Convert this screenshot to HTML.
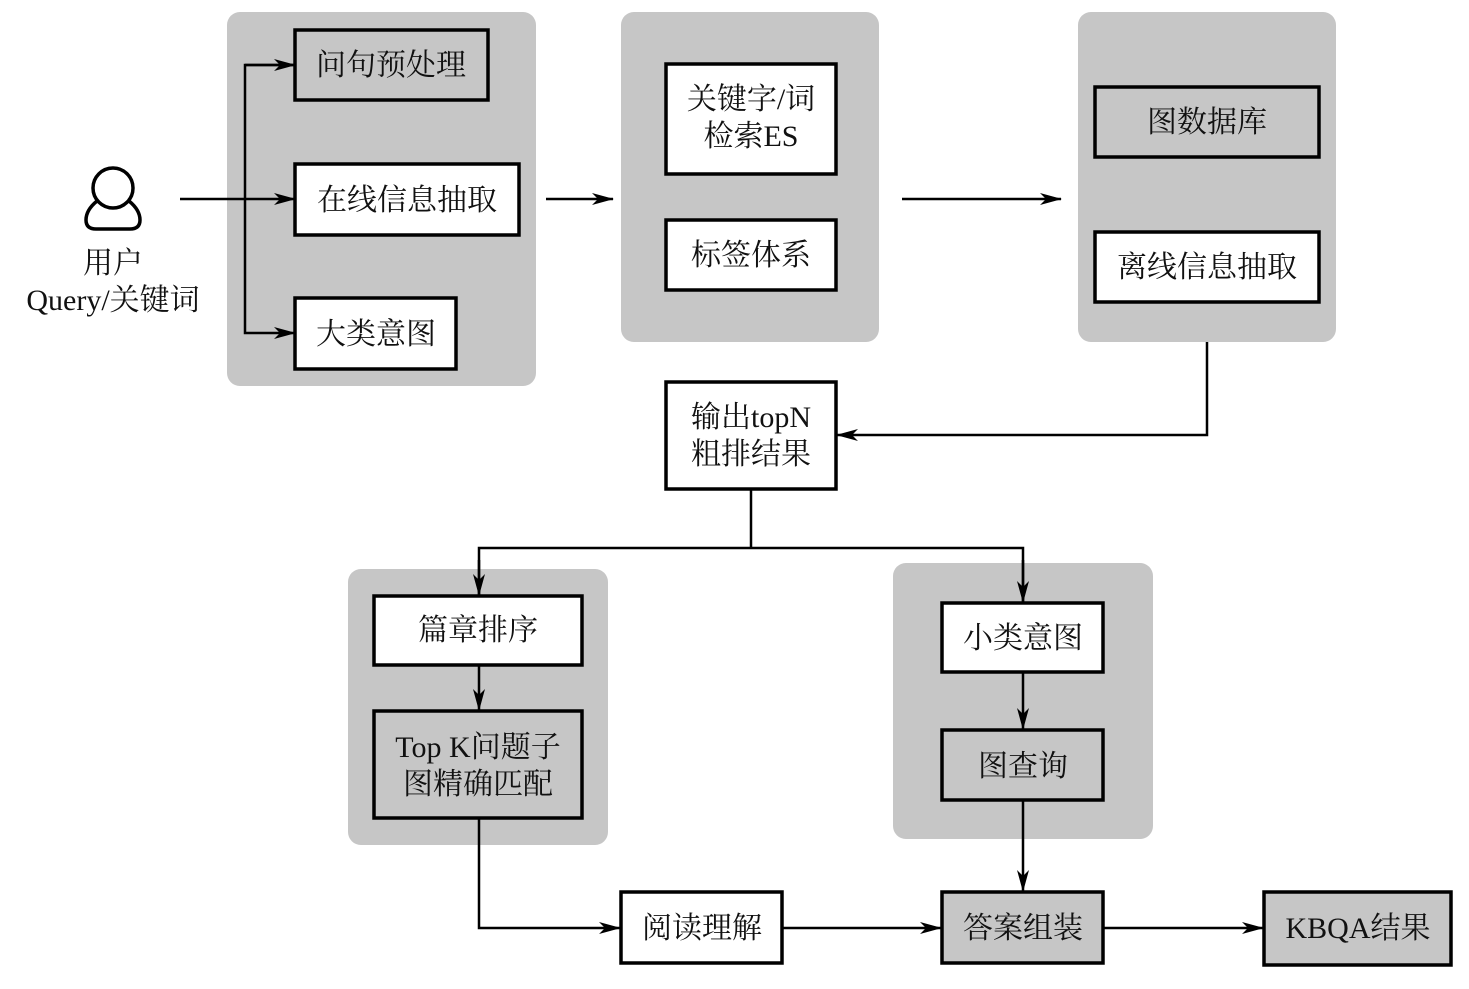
<!DOCTYPE html>
<html><head><meta charset="utf-8"><style>
html,body{margin:0;padding:0;background:#fff;}
svg text{font-family:"Liberation Serif","Noto Serif CJK SC",serif;font-size:30px;fill:#111;}
</style></head><body>
<svg width="1469" height="984" viewBox="0 0 1469 984" xmlns="http://www.w3.org/2000/svg">
<defs>
<marker id="a" markerWidth="22" markerHeight="12" refX="21" refY="6" orient="auto" markerUnits="userSpaceOnUse">
<path d="M0,0 L22,6 L0,12 L6,6 Z" fill="#000"/>
</marker>
</defs>
<!-- groups -->
<g fill="#c6c6c6">
<rect x="227" y="12" width="309" height="374" rx="13"/>
<rect x="621" y="12" width="258" height="330" rx="13"/>
<rect x="1078" y="12" width="258" height="330" rx="13"/>
<rect x="348" y="569" width="260" height="276" rx="13"/>
<rect x="893" y="563" width="260" height="276" rx="13"/>
</g>
<!-- boxes -->
<g stroke="#000" stroke-width="3.5">
<rect x="295" y="30" width="193" height="70" fill="#c6c6c6"/>
<rect x="295" y="164" width="224" height="71" fill="#fff"/>
<rect x="295" y="298" width="161" height="71" fill="#fff"/>
<rect x="666" y="64" width="170" height="110" fill="#fff"/>
<rect x="666" y="220" width="170" height="70" fill="#fff"/>
<rect x="1095" y="87" width="224" height="70" fill="#c6c6c6"/>
<rect x="1095" y="232" width="224" height="70" fill="#fff"/>
<rect x="666" y="382" width="170" height="107" fill="#fff"/>
<rect x="374" y="596" width="208" height="69" fill="#fff"/>
<rect x="374" y="711" width="208" height="107" fill="#c6c6c6"/>
<rect x="942" y="603" width="161" height="69" fill="#fff"/>
<rect x="942" y="730" width="161" height="70" fill="#c6c6c6"/>
<rect x="621" y="892" width="161" height="71" fill="#fff"/>
<rect x="942" y="892" width="161" height="71" fill="#c6c6c6"/>
<rect x="1264" y="892" width="187" height="73" fill="#c6c6c6"/>
</g>
<!-- user icon -->
<g fill="none" stroke="#000" stroke-width="3.5">
<circle cx="113" cy="188" r="20"/>
<path d="M97,201 Q86,210 86,220 Q86,229 96,229 L130,229 Q140,229 140,220 Q140,210 129,201"/>
</g>
<!-- connectors -->
<g stroke="#000" stroke-width="2.5" fill="none">
<line x1="180" y1="199" x2="295" y2="199" marker-end="url(#a)"/>
<polyline points="295,65 245,65 245,333 295,333" marker-end="url(#a)"/>
<line x1="245" y1="65" x2="295" y2="65" marker-end="url(#a)"/>
<line x1="546" y1="199" x2="613" y2="199" marker-end="url(#a)"/>
<line x1="902" y1="199" x2="1061" y2="199" marker-end="url(#a)"/>
<polyline points="1207,342 1207,435 837,435" marker-end="url(#a)"/>
<line x1="751" y1="489" x2="751" y2="548"/>
<polyline points="479,595 479,548 1023,548 1023,602" />
<line x1="479" y1="560" x2="479" y2="595" marker-end="url(#a)"/>
<line x1="1023" y1="560" x2="1023" y2="602" marker-end="url(#a)"/>
<line x1="479" y1="665" x2="479" y2="710" marker-end="url(#a)"/>
<line x1="1023" y1="672" x2="1023" y2="729" marker-end="url(#a)"/>
<line x1="1023" y1="800" x2="1023" y2="891" marker-end="url(#a)"/>
<polyline points="479,818 479,928 620,928" marker-end="url(#a)"/>
<line x1="782" y1="928" x2="941" y2="928" marker-end="url(#a)"/>
<line x1="1103" y1="928" x2="1263" y2="928" marker-end="url(#a)"/>
</g>
<!-- labels -->
<g text-anchor="middle">
<text x="113" y="273">用户</text>
<text x="113" y="310">Query/关键词</text>
<text x="391" y="75">问句预处理</text>
<text x="407" y="210">在线信息抽取</text>
<text x="376" y="344">大类意图</text>
<text x="751" y="109">关键字/词</text>
<text x="751" y="146">检索ES</text>
<text x="751" y="265">标签体系</text>
<text x="1207" y="132">图数据库</text>
<text x="1207" y="277">离线信息抽取</text>
<text x="751" y="427">输出topN</text>
<text x="751" y="464">粗排结果</text>
<text x="478" y="640">篇章排序</text>
<text x="478" y="757">Top K问题子</text>
<text x="478" y="794">图精确匹配</text>
<text x="1023" y="648">小类意图</text>
<text x="1023" y="776">图查询</text>
<text x="702" y="938">阅读理解</text>
<text x="1023" y="938">答案组装</text>
<text x="1358" y="938">KBQA结果</text>
</g>
</svg>
</body></html>
